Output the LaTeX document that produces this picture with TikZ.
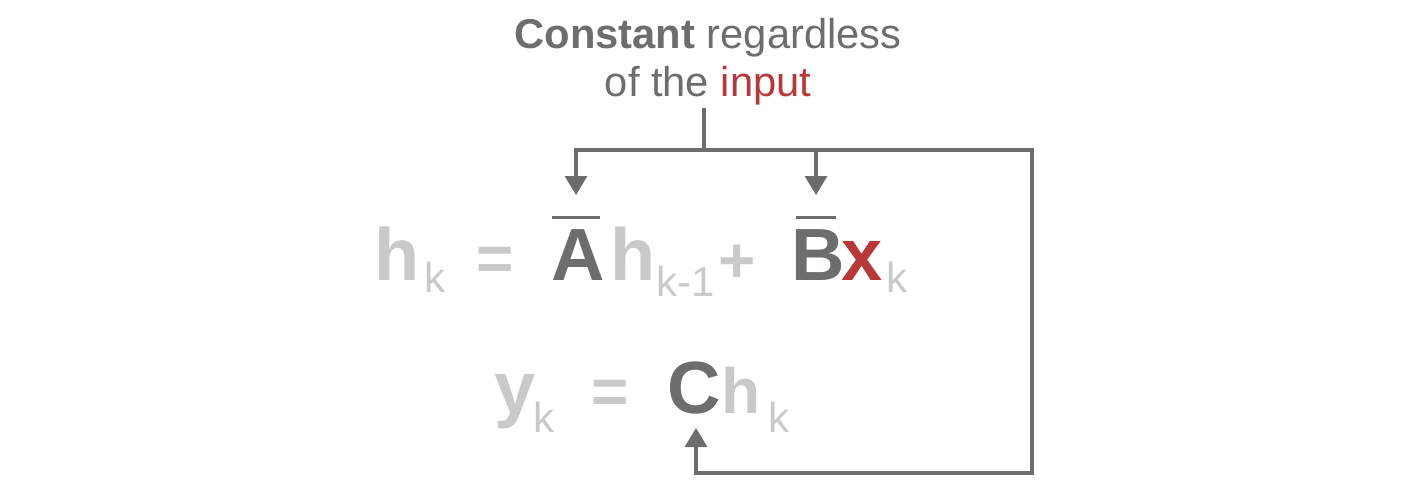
\documentclass[tikz,border=0pt]{standalone}
\usepackage{fontspec}
\setmainfont{Liberation Sans}
\usepackage{tikz}
\usetikzlibrary{arrows.meta,calc}
\definecolor{inkgray}{HTML}{6D6D6D}
\definecolor{palegray}{HTML}{C9C9C9}
\definecolor{inputred}{HTML}{B8383A}

\begin{document}
\begin{tikzpicture}[x=0.5pt,y=-0.5pt,>={Triangle[width=11pt,length=9.5pt]}]
    % `big' is used for the bold letters of both equations.
    % `sub' is used for the thin subscripts.
    % `feed' is used for the grey connector lines.
    \tikzstyle{big} = [inner sep=0pt,anchor=base,font=\fontsize{37}{40}\selectfont\bfseries]
    \tikzstyle{sign} = [inner sep=0pt,anchor=base,text=palegray,font=\fontsize{32}{36}\selectfont\bfseries]
    \tikzstyle{sub} = [inner sep=0pt,anchor=base,text=palegray,font=\fontsize{21}{24}\selectfont]
    \tikzstyle{note} = [inner sep=1.5pt,anchor=base,text=inkgray,font=\fontsize{20.85}{24}\selectfont]
    \tikzstyle{feed} = [draw=inkgray,line width=1.65pt,line join=miter]
    \tikzstyle{bar} = [draw=inkgray,line width=1.75pt]
    %
    \useasboundingbox (0,0) rectangle (1412,484);
    % Label on top.
    \node[note] (note1) at (708,48) {\textbf{Constant} regardless};
    \node[note] (note2) at (708,96) {of the \textcolor{inputred}{input}};
    % First equation.
    \node[big,text=palegray] (h) at (397.5,280) {h};
    \node[sub] (hk) at (434.5,292) {k};
    \node[sign] (eq1) at (495,280) {=};
    \node[big,text=inkgray] (A) at (578.5,280) {A};
    \node[big,text=palegray] (hprev) at (633,280) {h};
    \node[sub] (hprevk) at (686,296) {k-1};
    \node[sign] (plus) at (737,282) {+};
    \node[big,text=inkgray] (B) at (818,280) {B};
    \node[big,text=inputred] (x) at (862.5,280) {x};
    \node[sub] (xk) at (897,292) {k};
    \draw[bar] (552,217.5) -- (600,217.5);
    \draw[bar] (796,217.5) -- (836,217.5);
    % Second equation.
    \node[big,text=palegray] (y) at (515.5,413) {y};
    \node[sub] (yk) at (544,432) {k};
    \node[sign] (eq2) at (610.5,413) {=};
    \node[big,text=inkgray] (C) at (694.5,413) {C};
    \node[inner sep=0pt,anchor=base,text=palegray,font=\fontsize{32}{36}\selectfont\bfseries] (hnow) at (741,413) {h};
    \node[sub] (hnowk) at (779,432) {k};
    % Connectors.
    \coordinate (split) at (704,150);
    \coordinate (left) at (576,150);
    \coordinate (right) at (1032,150);
    \coordinate (Atip) at (576,195);
    \coordinate (Btip) at (816,195);
    \coordinate (Ctip) at (696,428);
    \coordinate (corner) at (1032,473);
    \draw[feed] (split |- note2.south) -- (split);
    \draw[feed,->] (Btip |- left) -- (Btip);
    \draw[feed,<->] (Atip) -- (left) -- (right) -- (corner) -- (Ctip |- corner) -- (Ctip);
\end{tikzpicture}
\end{document}
